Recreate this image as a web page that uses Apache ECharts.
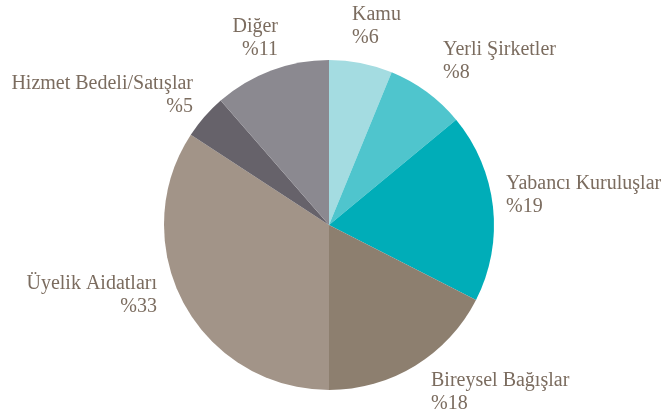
<!DOCTYPE html>
<html>
<head>
<meta charset="utf-8">
<script src="https://cdn.jsdelivr.net/npm/echarts@6/dist/echarts.min.js"></script>
<style>
  html, body { margin: 0; padding: 0; background: #fff; }
  #container { width: 666px; height: 414px; }
</style>
</head>
<body>
<div id="container"></div>
<script>
var categories = ['Kamu', 'Yerli Şirketler', 'Yabancı Kuruluşlar', 'Bireysel Bağışlar', 'Üyelik Aidatları', 'Hizmet Bedeli/Satışlar', 'Diğer'];
var shares = [6.2, 7.8, 18.5, 17.5, 34.2, 4.4, 11.4];
// percentages as printed in the labels
var printedPct = ['%6', '%8', '%19', '%18', '%33', '%5', '%11'];
var sliceColors = ['#a4dce1', '#4fc5cd', '#00adb8', '#8d7f6f', '#a29488', '#66626a', '#8b8990'];

// where each label sits (x, y of anchor, text alignment)
var labelX = [352, 443, 506, 431, 157, 193, 278];
var labelY = [26, 61, 195, 392, 295, 95, 38];
var labelAlign = ['left', 'left', 'left', 'left', 'right', 'right', 'right'];

var dom = document.getElementById('container');
var myChart = echarts.init(dom);

var pieData = categories.map(function (name, i) {
    return { name: name, value: shares[i], itemStyle: { color: sliceColors[i] } };
});

var option = {
    animation: false,
    series: [{
        type: 'pie',
        center: [329, 225],
        radius: [0, 165],
        startAngle: 90,
        clockwise: true,
        data: pieData,
        itemStyle: { borderWidth: 0 },
        label: {
            show: true,
            position: 'outside',
            formatter: function (p) {
                return p.name + '\n' + printedPct[p.dataIndex];
            },
            fontFamily: 'Liberation Serif',
            fontSize: 20,
            lineHeight: 23,
            color: '#7b6c5f',
            overflow: 'none'
        },
        labelLine: { show: false },
        labelLayout: function (params) {
            var i = params.dataIndex;
            return {
                x: labelX[i],
                y: labelY[i],
                align: labelAlign[i],
                verticalAlign: 'middle',
                moveOverlap: false
            };
        },
        emphasis: { disabled: true }
    }]
};

myChart.setOption(option, true);
</script>
</body>
</html>
